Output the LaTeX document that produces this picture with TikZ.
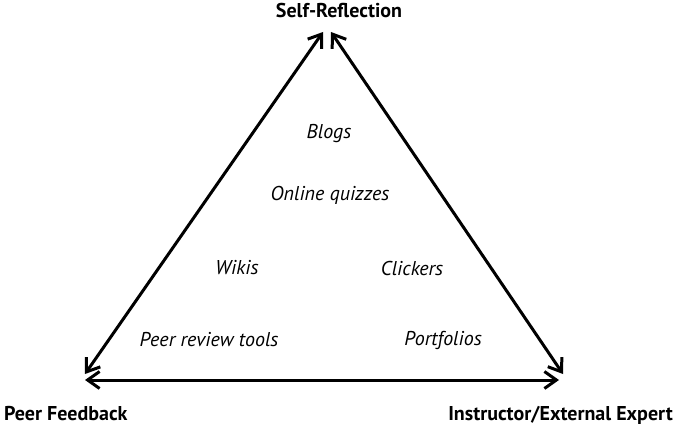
\documentclass[tikz,border=0pt]{standalone}
\usepackage{fontspec}
\setmainfont{PT Sans}
\usetikzlibrary{arrows.meta}
\begin{document}
\begin{tikzpicture}[x=1pt,y=-1pt,
  conn/.style={line width=3pt,{Straight Barb[length=12pt,width=17pt,line width=3pt]}-{Straight Barb[length=12pt,width=17pt,line width=3pt]}},
  corner/.style={font=\bfseries\fontsize{20}{22}\selectfont,inner sep=0pt},
  tool/.style={font=\itshape\fontsize{20}{22}\selectfont,inner sep=0pt}]
\useasboundingbox (0,0) rectangle (677,425);
\coordinate (ltop) at (323,32);
\coordinate (rtop) at (331,32);
\coordinate (lbot) at (85,374);
\coordinate (rbot) at (563,374);
\coordinate (bl) at (85,380);
\coordinate (br) at (559,380);
\draw[conn] (ltop) -- (lbot);
\draw[conn] (rtop) -- (rbot);
\draw[conn] (bl) -- (br);
\node[corner,anchor=base] (self) at (339,18) {Self-Reflection};
\node[corner,anchor=base west] (peer) at (4,420) {Peer Feedback};
\node[corner,anchor=base east] (inst) at (673,420) {Instructor/External Expert};
\node[tool] (blogs) at (329,134) {Blogs};
\node[tool] (quiz) at (330,195) {Online quizzes};
\node[tool] (wikis) at (237,268) {Wikis};
\node[tool] (click) at (412,268) {Clickers};
\node[tool] (prt) at (209,340) {Peer review tools};
\node[tool] (port) at (443,340) {Portfolios};
\end{tikzpicture}
\end{document}
